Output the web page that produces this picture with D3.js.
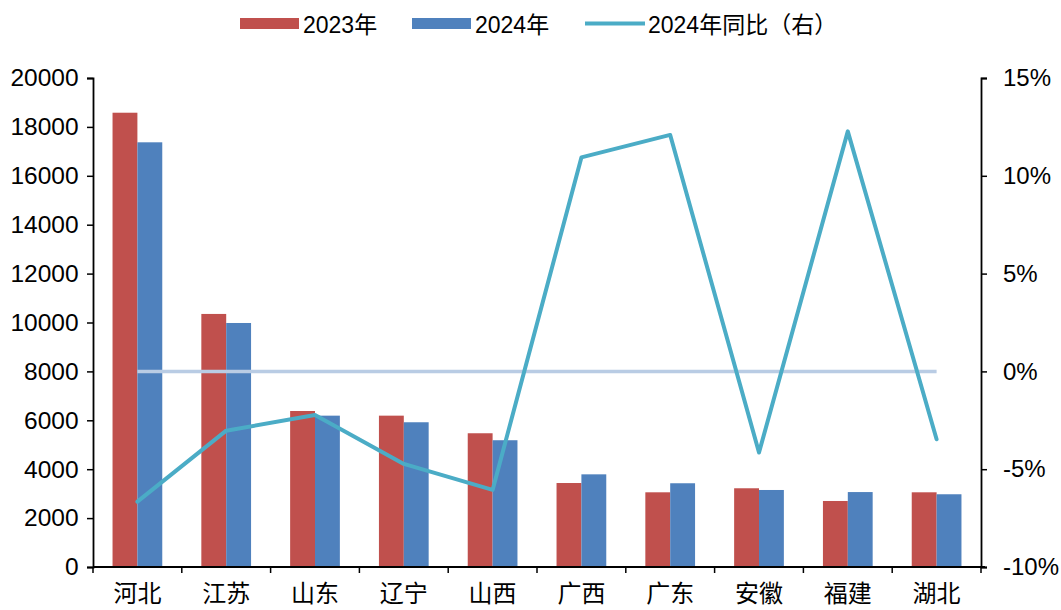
<!DOCTYPE html>
<html>
<head>
<meta charset="utf-8">
<script src="https://cdn.jsdelivr.net/npm/d3@7"></script>
<style>
  body { margin: 0; background: #fff; }
  text { font-family: "Liberation Sans", Arial, "Noto Sans CJK SC", sans-serif; fill: #000; }
</style>
</head>
<body>
<div id="chart"></div>
<script>
// data
var provinces = ["河北", "江苏", "山东", "辽宁", "山西", "广西", "广东", "安徽", "福建", "湖北"];
var values2023 = [18580, 10350, 6380, 6190, 5470, 3435, 3055, 3220, 2700, 3055];
var values2024 = [17370, 9980, 6190, 5920, 5185, 3790, 3425, 3150, 3065, 2975];
var yoy2024 = [-6.66, -3.03, -2.23, -4.73, -6.06, 10.94, 12.09, -4.15, 12.27, -3.47];
var leftTicks = [0, 2000, 4000, 6000, 8000, 10000, 12000, 14000, 16000, 18000, 20000];
var rightTicks = [-10, -5, 0, 5, 10, 15];

var W = 1061, H = 610;
var margin = { top: 78, right: 80, bottom: 43, left: 93 },
    width = W - margin.left - margin.right,
    height = H - margin.top - margin.bottom;

var svg = d3.select("#chart").append("svg")
    .attr("width", W)
    .attr("height", H);

var g = svg.append("g")
    .attr("transform", "translate(" + margin.left + "," + margin.top + ")");

var x = d3.scaleBand()
    .domain(provinces)
    .range([0, width])
    .paddingInner(0.44)
    .paddingOuter(0.22);

var xSeries = d3.scaleBand()
    .domain(["2023", "2024"])
    .range([0, x.bandwidth()]);

var yL = d3.scaleLinear().domain([0, 20000]).range([height, 0]);
var yR = d3.scaleLinear().domain([-10, 15]).range([height, 0]);

var colors = { "2023": "#C0504D", "2024": "#4F81BD" };
var lineColor = "#4BACC6";

// bars
var rows = provinces.map(function (p, i) {
    return { name: p, "2023": values2023[i], "2024": values2024[i] };
});

g.selectAll(".grp")
    .data(rows)
    .join("g")
    .attr("transform", d => "translate(" + x(d.name) + ",0)")
    .selectAll("rect")
    .data(d => ["2023", "2024"].map(k => ({ key: k, value: d[k] })))
    .join("rect")
    .attr("x", d => xSeries(d.key))
    .attr("width", xSeries.bandwidth())
    .attr("y", d => yL(d.value))
    .attr("height", d => height - yL(d.value))
    .attr("fill", d => colors[d.key]);

// zero reference line on right axis
var cx = d => x(d) + x.bandwidth() / 2;
g.append("line")
    .attr("x1", cx(provinces[0]))
    .attr("x2", cx(provinces[provinces.length - 1]))
    .attr("y1", yR(0))
    .attr("y2", yR(0))
    .attr("stroke", "#B9CCE4")
    .attr("stroke-width", 3.5);

// yoy line
var line = d3.line()
    .x((d, i) => cx(provinces[i]))
    .y(d => yR(d));

g.append("path")
    .datum(yoy2024)
    .attr("d", line)
    .attr("fill", "none")
    .attr("stroke", lineColor)
    .attr("stroke-width", 4)
    .attr("stroke-linejoin", "round")
    .attr("stroke-linecap", "round");

// axes
var leftAxis = g.append("g")
    .call(d3.axisLeft(yL).tickValues(leftTicks).tickSize(6).tickPadding(6).tickFormat(d3.format("d")));

var rightAxis = g.append("g")
    .attr("transform", "translate(" + width + ",0)")
    .call(d3.axisRight(yR).tickValues(rightTicks).tickSize(6).tickPadding(16).tickFormat(d => d + "%"));

var xAxis = g.append("g")
    .attr("transform", "translate(0," + height + ")")
    .call(d3.axisBottom(x).tickSize(0).tickPadding(16));

// x ticks at the band boundaries
xAxis.selectAll(".bound")
    .data(d3.range(provinces.length + 1))
    .join("line")
    .attr("class", "bound")
    .attr("x1", i => i * width / provinces.length)
    .attr("x2", i => i * width / provinces.length)
    .attr("y1", 0)
    .attr("y2", 6)
    .attr("stroke", "#000")
    .attr("stroke-width", 1.5);

[leftAxis, rightAxis, xAxis].forEach(function (a) {
    a.selectAll(".domain").attr("stroke", "#000").attr("stroke-width", 1.8);
    a.selectAll(".tick line").attr("stroke", "#000").attr("stroke-width", 1.5);
});
leftAxis.selectAll("text").style("font-size", "24.5px").attr("dx", "-0.1em");
rightAxis.selectAll("text").style("font-size", "24px");
xAxis.selectAll("text")
    .style("font-family", "'Noto Sans CJK SC', sans-serif")
    .style("font-size", "24px")
    .attr("dy", "0.78em");
xAxis.select(".domain").attr("d", "M0,0H" + (width + 4));

// legend
var legend = svg.append("g");
var legendItems = [
    { label: "2023年", type: "rect", color: colors["2023"], x: 240 },
    { label: "2024年", type: "rect", color: colors["2024"], x: 412 },
    { label: "2024年同比（右）", type: "line", color: lineColor, x: 585 }
];
legendItems.forEach(function (d) {
    if (d.type === "rect") {
        legend.append("rect")
            .attr("x", d.x).attr("y", 18)
            .attr("width", 59).attr("height", 11)
            .attr("fill", d.color);
    } else {
        legend.append("line")
            .attr("x1", d.x).attr("x2", d.x + 60)
            .attr("y1", 23.5).attr("y2", 23.5)
            .attr("stroke", d.color)
            .attr("stroke-width", 4);
    }
    legend.append("text")
        .attr("x", d.x + 63)
        .attr("y", 33)
        .style("font-size", "23px")
        .style("font-family", "'Liberation Sans', 'Noto Sans CJK SC', sans-serif")
        .text(d.label);
});
</script>
</body>
</html>
